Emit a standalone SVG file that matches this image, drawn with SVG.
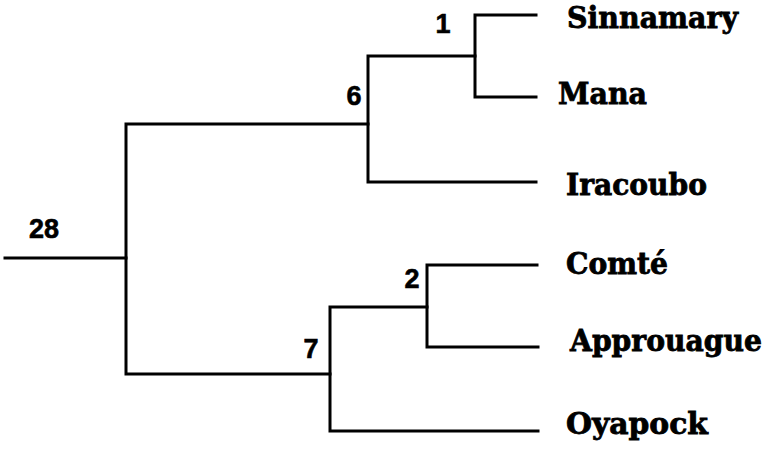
<svg xmlns="http://www.w3.org/2000/svg" width="767" height="449" viewBox="0 0 767 449">
<style>
.br{fill:none;stroke:#000;stroke-width:3;stroke-linecap:square;stroke-linejoin:miter}
.num{font-family:"Liberation Sans",Arial,sans-serif;font-weight:bold;font-size:27px;fill:#000;stroke:#000;stroke-width:0.6;text-anchor:middle}
.leaf{font-family:"DejaVu Serif","Liberation Serif",serif;font-weight:bold;font-size:29px;fill:#000;stroke:#000;stroke-width:0.8}
</style>
<rect width="767" height="449" fill="#fff"/>
<g id="connectors">
<path class="br" d="M5,258 H126"/>
<path class="br" d="M368,124 H126 V374 H330"/>
<path class="br" d="M536,15 H475 V97 H536"/>
<path class="br" d="M475,56 H368 V182 H536"/>
<path class="br" d="M537,265 H427 V347 H538"/>
<path class="br" d="M427,307 H330 V431 H538"/>
</g>
<g id="n28"><text class="num" x="44" y="238">28</text></g>
<g id="n6"><text class="num" x="354" y="105">6</text></g>
<g id="n1"><text class="num" x="443" y="33">1</text></g>
<g id="n7"><text class="num" x="311" y="358">7</text></g>
<g id="n2"><text class="num" x="412" y="288">2</text></g>
<g id="sinnamary"><text class="leaf" x="567" y="28" textLength="171" lengthAdjust="spacingAndGlyphs">Sinnamary</text></g>
<g id="mana"><text class="leaf" x="558" y="104" textLength="89" lengthAdjust="spacingAndGlyphs">Mana</text></g>
<g id="iracoubo"><text class="leaf" x="566" y="195" textLength="141" lengthAdjust="spacingAndGlyphs">Iracoubo</text></g>
<g id="comte"><text class="leaf" x="566" y="274" textLength="102" lengthAdjust="spacingAndGlyphs">Comté</text></g>
<g id="approuague"><text class="leaf" x="570" y="351" textLength="192" lengthAdjust="spacingAndGlyphs">Approuague</text></g>
<g id="oyapock"><text class="leaf" x="566" y="434" textLength="142" lengthAdjust="spacingAndGlyphs">Oyapock</text></g>
</svg>
